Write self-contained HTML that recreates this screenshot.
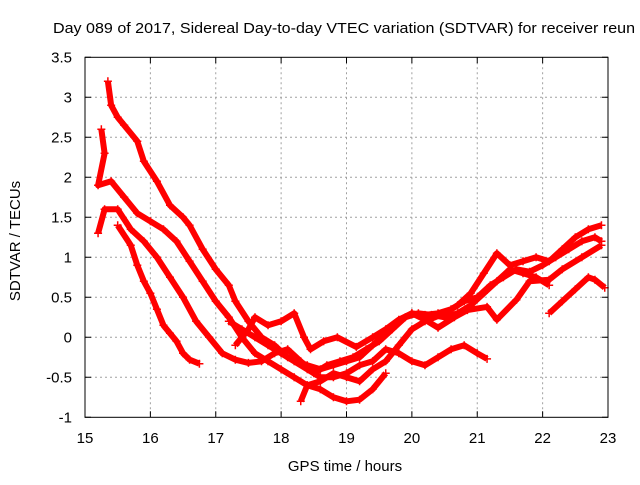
<!DOCTYPE html>
<html><head><meta charset="utf-8"><style>
body{margin:0;background:#fff}
svg text{font-family:"Liberation Sans",Arial,sans-serif;font-size:15px;fill:#000}
</style></head><body>
<svg id="chart" width="640" height="480" xmlns="http://www.w3.org/2000/svg">
<rect width="640" height="480" fill="#fff"/>
<text x="53" y="33" textLength="582" lengthAdjust="spacingAndGlyphs">Day 089 of 2017, Sidereal Day-to-day VTEC variation (SDTVAR) for receiver reun</text>
<text transform="translate(20,241) rotate(-90)" text-anchor="middle">SDTVAR / TECUs</text>
<text x="345" y="471" text-anchor="middle">GPS time / hours</text>
<g id="grid"></g>
<g id="series"></g>
<rect x="85" y="57.3" width="523" height="360" fill="none" stroke="#000" stroke-width="1"/>
<g id="ticks"></g>
</svg>
<script>
const xTicks=[15,16,17,18,19,20,21,22,23];
const yTicks=[-1,-0.5,0,0.5,1,1.5,2,2.5,3,3.5];
const yTickLabels=["-1","-0.5","0","0.5","1","1.5","2","2.5","3","3.5"];
const traceA=[[15.35,3.2],[15.4,2.9],[15.5,2.75],[15.6,2.65],[15.8,2.45],[15.9,2.2],[16.1,1.95],[16.3,1.65],[16.5,1.5],[16.6,1.4],[16.8,1.1],[17.0,0.85],[17.2,0.65],[17.3,0.45],[17.5,0.2],[17.7,0.0],[17.9,-0.1],[18.1,-0.25],[18.4,-0.35],[18.6,-0.4],[18.8,-0.35],[19.0,-0.3],[19.2,-0.25],[19.4,-0.1],[19.6,0.05],[19.8,0.2],[20.0,0.3],[20.2,0.28],[20.4,0.3],[20.6,0.35],[20.8,0.45],[21.0,0.5],[21.2,0.65],[21.4,0.75],[21.6,0.85],[21.8,0.82],[22.0,0.9],[22.2,1.0],[22.4,1.1],[22.6,1.2],[22.8,1.25],[22.9,1.2]];
const traceB=[[15.25,2.6],[15.3,2.3],[15.2,1.9],[15.4,1.95],[15.6,1.75],[15.8,1.55],[16.0,1.45],[16.2,1.35],[16.4,1.2],[16.6,0.95],[16.8,0.7],[17.0,0.45],[17.2,0.25],[17.4,0.0],[17.6,-0.2],[17.8,-0.3],[18.0,-0.4],[18.2,-0.5],[18.4,-0.6],[18.6,-0.65],[18.8,-0.75],[19.0,-0.8],[19.2,-0.78],[19.4,-0.65],[19.6,-0.45]];
const traceC=[[15.2,1.3],[15.3,1.6],[15.5,1.6],[15.7,1.35],[15.9,1.2],[16.1,1.0],[16.3,0.75],[16.5,0.5],[16.7,0.2],[16.9,0.0],[17.1,-0.2],[17.3,-0.28],[17.5,-0.32],[17.7,-0.3],[17.9,-0.2],[18.1,-0.15],[18.3,-0.3],[18.5,-0.45],[18.7,-0.35],[18.9,-0.3],[19.1,-0.25],[19.3,-0.15],[19.5,-0.05],[19.7,0.1],[19.9,0.25],[20.1,0.3],[20.3,0.28],[20.5,0.25],[20.7,0.3],[20.9,0.4],[21.1,0.55],[21.3,0.7],[21.5,0.85],[21.7,0.8],[21.9,0.75],[22.1,0.65]];
const traceD=[[15.5,1.4],[15.7,1.15],[15.8,0.9],[15.9,0.7],[16.0,0.55],[16.1,0.35],[16.2,0.15],[16.3,0.05],[16.4,-0.05],[16.5,-0.2],[16.6,-0.28],[16.75,-0.33]];
const traceE=[[17.2,0.2],[17.4,0.1],[17.6,0.0],[17.8,-0.1],[18.0,-0.2],[18.2,-0.3],[18.4,-0.4],[18.6,-0.5],[18.8,-0.5],[19.0,-0.45],[19.2,-0.35],[19.4,-0.3],[19.6,-0.15],[19.8,-0.2],[20.0,-0.3],[20.2,-0.35],[20.4,-0.25],[20.6,-0.15],[20.8,-0.1],[21.0,-0.2],[21.15,-0.27]];
const traceF=[[17.3,-0.1],[17.5,0.1],[17.6,0.25],[17.8,0.15],[18.0,0.2],[18.2,0.3],[18.35,0.0],[18.45,-0.15],[18.65,-0.05],[18.86,0.0],[19.15,-0.12],[19.4,0.0],[19.6,0.1],[19.8,0.22],[20.0,0.3],[20.2,0.22],[20.4,0.12],[20.65,0.25],[20.85,0.34],[21.15,0.38],[21.3,0.22],[21.6,0.47],[21.8,0.7],[22.1,0.72],[22.3,0.85],[22.6,1.0],[22.9,1.15]];
const traceG=[[22.1,0.3],[22.3,0.45],[22.5,0.6],[22.7,0.75],[22.8,0.72],[22.95,0.62]];
const traceH=[[18.3,-0.8],[18.4,-0.6],[18.6,-0.55],[18.8,-0.45],[19.0,-0.5],[19.2,-0.55],[19.4,-0.4],[19.6,-0.3],[19.8,-0.1],[20.0,0.1],[20.2,0.2],[20.5,0.3],[20.7,0.4],[20.9,0.55],[21.1,0.8],[21.3,1.05],[21.5,0.9],[21.7,0.95],[21.9,1.0],[22.1,0.95],[22.3,1.1],[22.5,1.25],[22.7,1.35],[22.9,1.4]];
const traces=[traceA,traceB,traceC,traceD,traceE,traceF,traceG,traceH];
const NS="http://www.w3.org/2000/svg";
const X0=85,X1=608,Y0=417.3,Y1=57.3;
function sx(v){return X0+(v-15)/(23-15)*(X1-X0);}
function sy(v){return Y0-(v+1)/(3.5+1)*(Y0-Y1);}
function mk(tag,attrs,parent){const e=document.createElementNS(NS,tag);for(const k in attrs)e.setAttribute(k,attrs[k]);parent.appendChild(e);return e;}
const grid=document.getElementById('grid'),ticks=document.getElementById('ticks'),ser=document.getElementById('series');
xTicks.forEach((t,i)=>{
  const x=sx(t);
  if(i>0&&i<xTicks.length-1){const g=mk('line',{x1:x,x2:x,y1:Y1,y2:Y0,stroke:'#a0a0a0','stroke-dasharray':'2,3'},grid);
  
  }
  const tk=mk('path',{d:`M${x},${Y0}v-6M${x},${Y1}v6`,stroke:'#000'},ticks);
  
  
  const l=mk('text',{x:x,y:443,'text-anchor':'middle'},ticks);l.textContent=t;
  
  
});
yTicks.forEach((t,i)=>{
  const y=sy(t);
  if(i>0&&i<yTicks.length-1){const g=mk('line',{x1:X0,x2:X1,y1:y,y2:y,stroke:'#a0a0a0','stroke-dasharray':'2,3'},grid);
  
  }
  const tk=mk('path',{d:`M${X0},${y}h6M${X1},${y}h-6`,stroke:'#000'},ticks);
  
  
  const l=mk('text',{x:72,y:y+5,'text-anchor':'end'},ticks);l.textContent=yTickLabels[i];
  
  
});
traces.forEach((tr,ti)=>{
  const pl=mk('polyline',{points:tr.map(p=>sx(p[0])+','+sy(p[1])).join(' '),fill:'none',stroke:'#f00','stroke-width':6,'stroke-linejoin':'round'},ser);
  
  
  let d='';
  tr.forEach(p=>{const x=sx(p[0]),y=sy(p[1]);d+=`M${x-4},${y}h8M${x},${y-4}v8`;});
  const m=mk('path',{d:d,stroke:'#f00','stroke-width':1.5},ser);
  
  
});
</script>
</body></html>
